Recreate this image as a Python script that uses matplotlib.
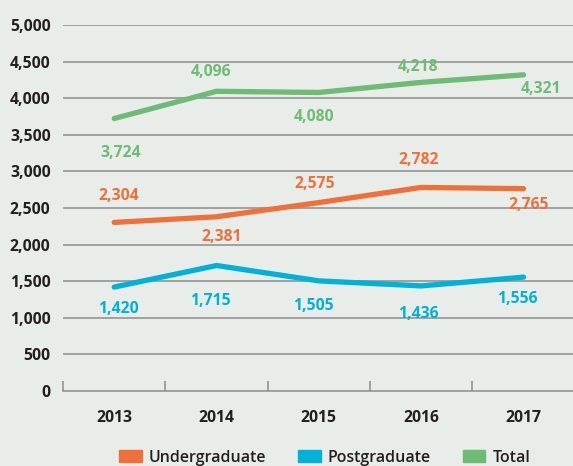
import matplotlib.pyplot as plt
import matplotlib.patches as mpatches

# data
years = ['2013', '2014', '2015', '2016', '2017']
undergraduate = [2304, 2381, 2575, 2782, 2765]
postgraduate = [1420, 1715, 1505, 1436, 1556]
total = [3724, 4096, 4080, 4218, 4321]
y_ticks = [0, 500, 1000, 1500, 2000, 2500, 3000, 3500, 4000, 4500, 5000]

# label offsets in pixels (dx, dy)
off_ug = [(5, 26), (5, -20), (-4, 19), (-3, 27), (5, -16)]
off_pg = [(4, -22), (-6, -35), (-5, -25), (-3, -28), (-6, -22)]
off_tot = [(6, -34), (-6, 19), (-5, -25), (-3, 15), (18, -14)]

bg = '#E9EDE9'
c_ug = '#F0703A'
c_pg = '#00B1D9'
c_tot = '#6DBB75'
dark = '#231F20'

plt.rcParams['font.family'] = ['Open Sans', 'DejaVu Sans']

fig = plt.figure(figsize=(5.73, 4.66), dpi=100, facecolor=bg)
ax = fig.add_axes([0.110, 0.161, 0.893, 0.785])
ax.set_facecolor(bg)

x = list(range(len(years)))
for vals, col, offs in [(total, c_tot, off_tot), (undergraduate, c_ug, off_ug), (postgraduate, c_pg, off_pg)]:
    ax.plot(x, vals, color=col, lw=3.8, solid_capstyle='round', zorder=3)
    for xi, v, (dx, dy) in zip(x, vals, offs):
        ax.annotate(f'{v:,}', (xi, v), xytext=(dx, dy), textcoords='offset pixels',
                    ha='center', va='center', color=col, fontsize=11.3, fontweight='bold')

ax.set_xlim(-0.5, 4.5)
ax.set_ylim(0, 5000)
ax.set_yticks(y_ticks)
ax.set_yticklabels([f'{t:,}' for t in y_ticks], fontsize=11.3, fontweight='bold', color=dark)
ax.tick_params(axis='y', length=0, pad=9)
for t in y_ticks[1:]:
    ax.axhline(t, color='#8C8C8C', lw=1.1, zorder=1)

ax.set_xticks([-0.5, 0.5, 1.5, 2.5, 3.5])
ax.set_xticklabels([])
ax.tick_params(axis='x', which='major', direction='in', length=7, width=1.1, color='#8C8C8C')
ax.set_xticks(x, minor=True)
ax.set_xticklabels(years, minor=True, fontsize=11.3, fontweight='bold', color=dark)
ax.tick_params(axis='x', which='minor', length=0, pad=14)

for s in ['top', 'right', 'left']:
    ax.spines[s].set_visible(False)
ax.spines['bottom'].set_color('#8C8C8C')
ax.spines['bottom'].set_linewidth(1.1)

handles = [mpatches.Patch(color=c_ug, label='Undergraduate'),
           mpatches.Patch(color=c_pg, label='Postgraduate'),
           mpatches.Patch(color=c_tot, label='Total')]
leg = fig.legend(handles=handles, loc='center', bbox_to_anchor=(0.567, 0.018), ncol=3, frameon=False,
                 handlelength=1.4, handleheight=0.7, columnspacing=2.0, handletextpad=0.45,
                 prop={'size': 11.5, 'weight': 'semibold'})
for t in leg.get_texts():
    t.set_color(dark)

fig.savefig('out.png', dpi=100, facecolor=bg)
